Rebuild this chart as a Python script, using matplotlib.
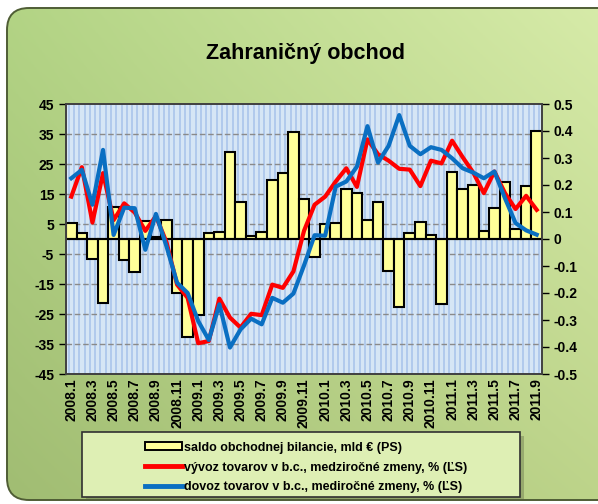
import numpy as np
import matplotlib.pyplot as plt
from matplotlib.patches import FancyBboxPatch, Rectangle
from matplotlib.lines import Line2D

# -------------------------------
# Data (mesiace 2008.1 - 2011.9)
# -------------------------------
months = [f"{2008 + i // 12}.{i % 12 + 1}" for i in range(45)]

saldo = [5.3, 2.0, -6.5, -21.3, 10.6, -6.9, -11.1, 6.0, 0.8, 6.3,
         -18.0, -32.7, -25.3, 2.0, 2.3, 29.1, 12.4, 1.1, 2.5, 19.7,
         21.9, 35.6, 13.2, -6.0, 5.0, 5.3, 16.6, 15.5, 6.3, 12.5,
         -10.8, -22.6, 2.0, 5.6, 1.3, -21.5, 22.4, 16.8, 18.1, 2.8,
         10.3, 19.1, 3.3, 17.7, 36.1]

vyvoz = [0.157, 0.266, 0.061, 0.244, 0.070, 0.132, 0.098, 0.030, 0.085, -0.012,
         -0.169, -0.218, -0.386, -0.378, -0.221, -0.291, -0.328, -0.277, -0.282, -0.169,
         -0.181, -0.120, 0.030, 0.127, 0.157, 0.213, 0.262, 0.193, 0.369, 0.314,
         0.290, 0.260, 0.257, 0.196, 0.290, 0.280, 0.364, 0.303, 0.246, 0.170,
         0.250, 0.170, 0.111, 0.160, 0.108]

dovoz = [0.225, 0.256, 0.127, 0.330, 0.015, 0.116, 0.114, -0.040, 0.093, -0.027,
         -0.162, -0.200, -0.304, -0.374, -0.242, -0.402, -0.335, -0.295, -0.316, -0.218,
         -0.236, -0.202, -0.098, 0.014, 0.012, 0.194, 0.213, 0.268, 0.418, 0.283,
         0.345, 0.459, 0.345, 0.314, 0.340, 0.330, 0.299, 0.262, 0.246, 0.225,
         0.250, 0.151, 0.059, 0.032, 0.016]

left_ticks = list(range(-45, 46, 10))
right_ticks = [round(v * 0.1, 1) for v in range(-5, 6)]

W, H = 598, 504
BOLD = "Liberation Sans"


def px(x0, y0, x1, y1):
    # pixel box (top-left origin) -> figure fraction rect
    return [x0 / W, 1 - y1 / H, (x1 - x0) / W, (y1 - y0) / H]


def main():
    fig = plt.figure(figsize=(W / 100, H / 100), dpi=100)
    fig.patch.set_facecolor("white")

    # -------------------------------
    # Pozadie (zaoblený rám s gradientom)
    # -------------------------------
    bg = fig.add_axes([0, 0, 1, 1], zorder=-10)
    bg.set_xlim(0, W)
    bg.set_ylim(H, 0)
    bg.axis("off")
    gx = np.linspace(0, 1, 200)[None, :]
    gy = np.linspace(0, 1, 200)[:, None]
    c_tl = np.array([0.70, 0.83, 0.52])
    c_tr = np.array([0.84, 0.92, 0.66])
    c_bl = np.array([0.63, 0.74, 0.45])
    c_br = np.array([0.74, 0.83, 0.54])
    top = c_tl * (1 - gx[..., None]) + c_tr * gx[..., None]
    bot = c_bl * (1 - gx[..., None]) + c_br * gx[..., None]
    grad = top * (1 - gy[..., None]) + bot * gy[..., None]
    frame = FancyBboxPatch((7, 8), W + 20, 492, boxstyle="round,pad=0,rounding_size=22",
                           facecolor="none", edgecolor="#4f5d35", lw=1.4, zorder=3)
    bg.add_patch(frame)
    im = bg.imshow(grad, extent=[7, W, 500, 8], aspect="auto", zorder=1)
    im.set_clip_path(frame)

    fig.text(306 / W, 1 - 54 / H, "Zahraničný obchod", ha="center", va="center",
             fontsize=15.5, fontweight="bold", family=BOLD)

    # -------------------------------
    # Graf
    # -------------------------------
    ax = fig.add_axes(px(66, 104, 542, 374))
    ax.set_facecolor("#d6e6f5")
    x = np.arange(len(months))
    for s in np.arange(-0.5, 44.6, 0.5):
        ax.axvline(s + 0.25, color="#aec8ec", lw=1.3, zorder=0)

    ax.bar(x, saldo, width=1.0, color="#ffff99", edgecolor="black", lw=1.5, zorder=2)
    ax.axhline(0, color="black", lw=1.5, zorder=2.5)
    ax.set_xlim(-0.5, 44.5)
    ax.set_ylim(-45, 45)
    ax.set_yticks(left_ticks)
    ax.set_yticklabels([str(v) for v in left_ticks])
    for v in left_ticks[1:-1]:
        ax.axhline(v, color="#8a8a8a", lw=1.0, ls=(0, (4, 2)), zorder=1)
    ax.set_xticks(x[::2])
    ax.set_xticklabels(months[::2], rotation=90, va="top", ha="center")
    ax.tick_params(axis="both", labelsize=10, length=5, width=1.0, colors="black")
    ax.tick_params(axis="x", length=0, pad=3)
    for lab in ax.get_xticklabels() + ax.get_yticklabels():
        lab.set_fontweight("bold")
        lab.set_family(BOLD)
    for sp in ax.spines.values():
        sp.set_color("#404040")
        sp.set_linewidth(1.2)

    ax2 = ax.twinx()
    ax2.plot(x, vyvoz, color="#ff0000", lw=3.0, zorder=3, solid_joinstyle="round")
    ax2.plot(x, dovoz, color="#0a6fc2", lw=3.0, zorder=4, solid_joinstyle="round")
    ax2.set_ylim(-0.5, 0.5)
    ax2.set_yticks(right_ticks)
    ax2.set_yticklabels([f"{v:g}" for v in right_ticks])
    ax2.tick_params(axis="y", labelsize=10, length=5, width=1.0)
    for lab in ax2.get_yticklabels():
        lab.set_fontweight("bold")
        lab.set_family(BOLD)
    for sp in ax2.spines.values():
        sp.set_color("#404040")
        sp.set_linewidth(1.2)

    # -------------------------------
    # Legenda
    # -------------------------------
    bg.add_patch(Rectangle((86, 436), 438, 65, facecolor="#55603f", alpha=0.35,
                           edgecolor="none", zorder=4))
    bg.add_patch(Rectangle((82, 432), 438, 65, facecolor="#deefb4",
                           edgecolor="#303030", lw=1.2, zorder=5))
    handles = [
        Rectangle((0, 0), 1, 1, facecolor="#ffff99", edgecolor="black", lw=1.4),
        Line2D([], [], color="#ff0000", lw=3.5),
        Line2D([], [], color="#0a6fc2", lw=3.5),
    ]
    labels = [
        "saldo obchodnej bilancie, mld € (PS)",
        "vývoz tovarov v b.c., medziročné zmeny, % (ĽS)",
        "dovoz tovarov v b.c., mediročné zmeny, % (ĽS)",
    ]
    leg = fig.legend(handles, labels, loc="upper left", bbox_to_anchor=(136 / W, 1 - 433 / H),
                     frameon=False, handlelength=3.0, handleheight=0.6, handletextpad=0.15,
                     labelspacing=0.62, borderpad=0.2,
                     prop={"family": BOLD, "weight": "bold", "size": 9})
    leg.set_zorder(6)

    fig.savefig("out.png", dpi=100)


if __name__ == "__main__":
    main()
